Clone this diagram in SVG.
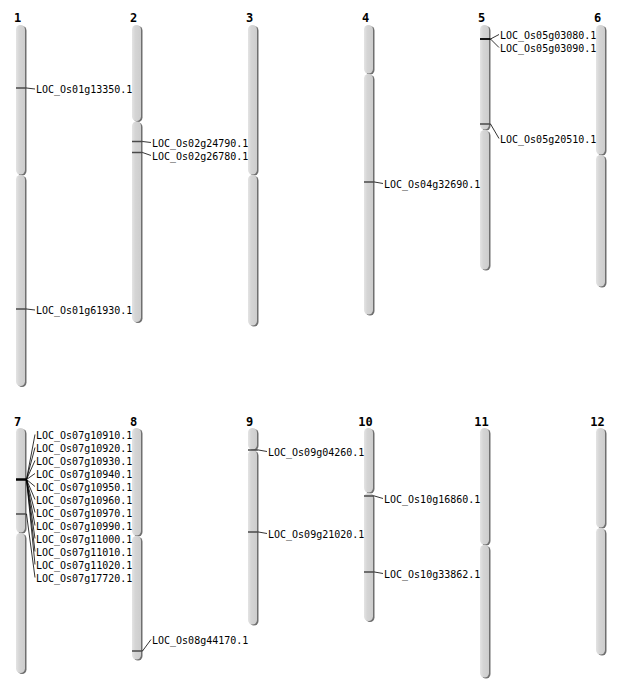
<svg xmlns="http://www.w3.org/2000/svg" width="634" height="700" viewBox="0 0 634 700">
<defs>
<linearGradient id="arm" x1="0" y1="0" x2="1" y2="0">
<stop offset="0" stop-color="#e4e4e4"/>
<stop offset="0.35" stop-color="#d5d5d5"/>
<stop offset="1" stop-color="#cdcdcd"/>
</linearGradient>
</defs>
<style>
.arm{fill:url(#arm)}
.sh{fill:#6f6f6f}
.num{font-family:"DejaVu Sans Mono","Liberation Mono",monospace;font-weight:bold;font-size:12px;text-anchor:middle;fill:#000}
.lbl{font-family:"DejaVu Sans Mono","Liberation Mono",monospace;font-size:10px;fill:#000}
.mk{stroke:#4a4a4a;stroke-width:1.5}
.mk2{stroke:#000;stroke-width:2.5}
.cn{stroke:#000;stroke-width:0.8;fill:none}
</style>
<rect width="634" height="700" fill="#fff"/>

<g id="chr1">
<text class="num" x="17.5" y="22">1</text>
<rect class="sh" x="17.5" y="26" width="9" height="149.5" rx="4.5"/>
<rect class="sh" x="17.5" y="176" width="9" height="211" rx="4.5"/>
<rect class="arm" x="16" y="25" width="9" height="149.5" rx="4.5"/>
<rect class="arm" x="16" y="175" width="9" height="211" rx="4.5"/>
</g>
<g id="chr2">
<text class="num" x="133.5" y="22">2</text>
<rect class="sh" x="133.5" y="26" width="9" height="96" rx="4.5"/>
<rect class="sh" x="133.5" y="122.5" width="9" height="200.5" rx="4.5"/>
<rect class="arm" x="132" y="25" width="9" height="96" rx="4.5"/>
<rect class="arm" x="132" y="121.5" width="9" height="200.5" rx="4.5"/>
</g>
<g id="chr3">
<text class="num" x="249.5" y="22">3</text>
<rect class="sh" x="249.5" y="26" width="9" height="149.5" rx="4.5"/>
<rect class="sh" x="249.5" y="176" width="9" height="150.5" rx="4.5"/>
<rect class="arm" x="248" y="25" width="9" height="149.5" rx="4.5"/>
<rect class="arm" x="248" y="175" width="9" height="150.5" rx="4.5"/>
</g>
<g id="chr4">
<text class="num" x="365.5" y="22">4</text>
<rect class="sh" x="365.5" y="26" width="9" height="48.5" rx="4.5"/>
<rect class="sh" x="365.5" y="75" width="9" height="240.5" rx="4.5"/>
<rect class="arm" x="364" y="25" width="9" height="48.5" rx="4.5"/>
<rect class="arm" x="364" y="74" width="9" height="240.5" rx="4.5"/>
</g>
<g id="chr5">
<text class="num" x="481.5" y="22">5</text>
<rect class="sh" x="481.5" y="26" width="9" height="104.5" rx="4.5"/>
<rect class="sh" x="481.5" y="131" width="9" height="139.5" rx="4.5"/>
<rect class="arm" x="480" y="25" width="9" height="104.5" rx="4.5"/>
<rect class="arm" x="480" y="130" width="9" height="139.5" rx="4.5"/>
</g>
<g id="chr6">
<text class="num" x="597.5" y="22">6</text>
<rect class="sh" x="597.5" y="26" width="9" height="129.5" rx="4.5"/>
<rect class="sh" x="597.5" y="156" width="9" height="131.5" rx="4.5"/>
<rect class="arm" x="596" y="25" width="9" height="129.5" rx="4.5"/>
<rect class="arm" x="596" y="155" width="9" height="131.5" rx="4.5"/>
</g>
<g id="chr7">
<text class="num" x="17.5" y="426">7</text>
<rect class="sh" x="17.5" y="429" width="9" height="104.5" rx="4.5"/>
<rect class="sh" x="17.5" y="534" width="9" height="140" rx="4.5"/>
<rect class="arm" x="16" y="428" width="9" height="104.5" rx="4.5"/>
<rect class="arm" x="16" y="533" width="9" height="140" rx="4.5"/>
</g>
<g id="chr8">
<text class="num" x="133.5" y="426">8</text>
<rect class="sh" x="133.5" y="429" width="9" height="107.5" rx="4.5"/>
<rect class="sh" x="133.5" y="537" width="9" height="123.5" rx="4.5"/>
<rect class="arm" x="132" y="428" width="9" height="107.5" rx="4.5"/>
<rect class="arm" x="132" y="536" width="9" height="123.5" rx="4.5"/>
</g>
<g id="chr9">
<text class="num" x="249.5" y="426">9</text>
<rect class="sh" x="249.5" y="429" width="9" height="21.5" rx="4.5"/>
<rect class="sh" x="249.5" y="451" width="9" height="174.5" rx="4.5"/>
<rect class="arm" x="248" y="428" width="9" height="21.5" rx="4.5"/>
<rect class="arm" x="248" y="450" width="9" height="174.5" rx="4.5"/>
</g>
<g id="chr10">
<text class="num" x="365.5" y="426">10</text>
<rect class="sh" x="365.5" y="429" width="9" height="64.5" rx="4.5"/>
<rect class="sh" x="365.5" y="494" width="9" height="128" rx="4.5"/>
<rect class="arm" x="364" y="428" width="9" height="64.5" rx="4.5"/>
<rect class="arm" x="364" y="493" width="9" height="128" rx="4.5"/>
</g>
<g id="chr11">
<text class="num" x="481.5" y="426">11</text>
<rect class="sh" x="481.5" y="429" width="9" height="116.5" rx="4.5"/>
<rect class="sh" x="481.5" y="546" width="9" height="132.5" rx="4.5"/>
<rect class="arm" x="480" y="428" width="9" height="116.5" rx="4.5"/>
<rect class="arm" x="480" y="545" width="9" height="132.5" rx="4.5"/>
</g>
<g id="chr12">
<text class="num" x="597.5" y="426">12</text>
<rect class="sh" x="597.5" y="429" width="9" height="99.5" rx="4.5"/>
<rect class="sh" x="597.5" y="529" width="9" height="126.5" rx="4.5"/>
<rect class="arm" x="596" y="428" width="9" height="99.5" rx="4.5"/>
<rect class="arm" x="596" y="528" width="9" height="126.5" rx="4.5"/>
</g>

<g id="markers">
<line class="mk" x1="16" y1="88" x2="26.5" y2="88"/>
<line class="mk" x1="16" y1="309" x2="26.5" y2="309"/>
<line class="mk" x1="132" y1="141.5" x2="142.5" y2="141.5"/>
<line class="mk" x1="132" y1="152.5" x2="142.5" y2="152.5"/>
<line class="mk" x1="364" y1="182" x2="374.5" y2="182"/>
<line class="mk2" x1="480" y1="39" x2="490.5" y2="39" style="stroke-width:1.8"/>
<line class="mk" x1="480" y1="124" x2="490.5" y2="124"/>
<line class="mk2" x1="16" y1="479.5" x2="26.5" y2="479.5"/>
<line class="mk" x1="16" y1="514" x2="26.5" y2="514"/>
<line class="mk" x1="132" y1="651" x2="142.5" y2="651"/>
<line class="mk" x1="248" y1="450" x2="258.5" y2="450"/>
<line class="mk" x1="248" y1="532" x2="258.5" y2="532"/>
<line class="mk" x1="364" y1="496" x2="374.5" y2="496"/>
<line class="mk" x1="364" y1="572" x2="374.5" y2="572"/>
</g>

<g id="connectors">
<line class="cn" x1="26.5" y1="88" x2="35" y2="89"/>
<line class="cn" x1="26.5" y1="309" x2="35" y2="310"/>
<line class="cn" x1="142.5" y1="141.5" x2="151" y2="142.5"/>
<line class="cn" x1="142.5" y1="152.5" x2="151" y2="155.5"/>
<line class="cn" x1="374.5" y1="182" x2="383" y2="183.5"/>
<line class="cn" x1="490.5" y1="39" x2="499" y2="34.5"/>
<line class="cn" x1="490.5" y1="39" x2="499" y2="47.5"/>
<line class="cn" x1="490.5" y1="124" x2="499" y2="138.5"/>
<line class="cn" x1="26.5" y1="479.5" x2="35" y2="434.5"/>
<line class="cn" x1="26.5" y1="479.5" x2="35" y2="447.5"/>
<line class="cn" x1="26.5" y1="479.5" x2="35" y2="460.5"/>
<line class="cn" x1="26.5" y1="479.5" x2="35" y2="473.5"/>
<line class="cn" x1="26.5" y1="479.5" x2="35" y2="486.5"/>
<line class="cn" x1="26.5" y1="479.5" x2="35" y2="499.5"/>
<line class="cn" x1="26.5" y1="479.5" x2="35" y2="512.5"/>
<line class="cn" x1="26.5" y1="479.5" x2="35" y2="525.5"/>
<line class="cn" x1="26.5" y1="479.5" x2="35" y2="538.5"/>
<line class="cn" x1="26.5" y1="479.5" x2="35" y2="551.5"/>
<line class="cn" x1="26.5" y1="479.5" x2="35" y2="564.5"/>
<line class="cn" x1="26.5" y1="514" x2="35" y2="577.5"/>
<line class="cn" x1="142.5" y1="651" x2="151" y2="639.5"/>
<line class="cn" x1="258.5" y1="450" x2="267" y2="451.5"/>
<line class="cn" x1="258.5" y1="532" x2="267" y2="533.5"/>
<line class="cn" x1="374.5" y1="496" x2="383" y2="498.5"/>
<line class="cn" x1="374.5" y1="572" x2="383" y2="573.5"/>
</g>

<g id="labels">
<text class="lbl" x="36" y="93">LOC_Os01g13350.1</text>
<text class="lbl" x="36" y="314">LOC_Os01g61930.1</text>
<text class="lbl" x="152" y="146.5">LOC_Os02g24790.1</text>
<text class="lbl" x="152" y="159.5">LOC_Os02g26780.1</text>
<text class="lbl" x="384" y="187.5">LOC_Os04g32690.1</text>
<text class="lbl" x="500" y="38.5">LOC_Os05g03080.1</text>
<text class="lbl" x="500" y="51.5">LOC_Os05g03090.1</text>
<text class="lbl" x="500" y="142.5">LOC_Os05g20510.1</text>
<text class="lbl" x="36" y="438.5">LOC_Os07g10910.1</text>
<text class="lbl" x="36" y="451.5">LOC_Os07g10920.1</text>
<text class="lbl" x="36" y="464.5">LOC_Os07g10930.1</text>
<text class="lbl" x="36" y="477.5">LOC_Os07g10940.1</text>
<text class="lbl" x="36" y="490.5">LOC_Os07g10950.1</text>
<text class="lbl" x="36" y="503.5">LOC_Os07g10960.1</text>
<text class="lbl" x="36" y="516.5">LOC_Os07g10970.1</text>
<text class="lbl" x="36" y="529.5">LOC_Os07g10990.1</text>
<text class="lbl" x="36" y="542.5">LOC_Os07g11000.1</text>
<text class="lbl" x="36" y="555.5">LOC_Os07g11010.1</text>
<text class="lbl" x="36" y="568.5">LOC_Os07g11020.1</text>
<text class="lbl" x="36" y="581.5">LOC_Os07g17720.1</text>
<text class="lbl" x="152" y="643.5">LOC_Os08g44170.1</text>
<text class="lbl" x="268" y="455.5">LOC_Os09g04260.1</text>
<text class="lbl" x="268" y="537.5">LOC_Os09g21020.1</text>
<text class="lbl" x="384" y="502.5">LOC_Os10g16860.1</text>
<text class="lbl" x="384" y="577.5">LOC_Os10g33862.1</text>
</g>
</svg>
